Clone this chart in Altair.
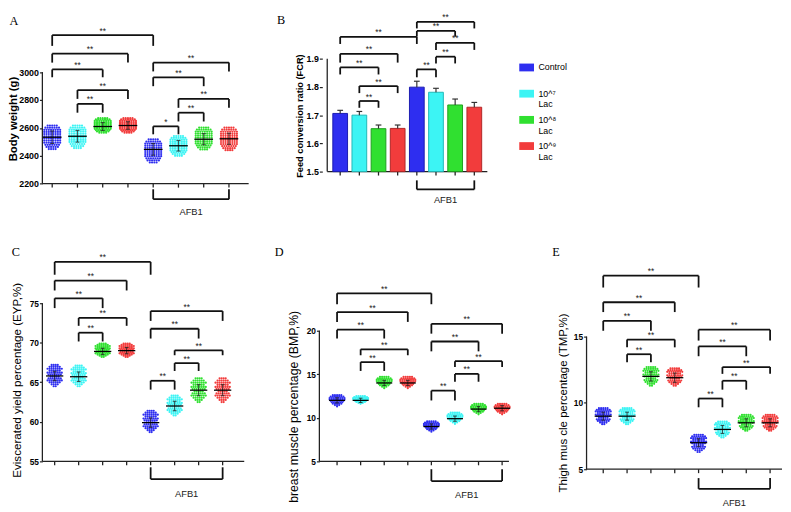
import altair as alt
import pandas as pd

FONT = "Liberation Sans, Arial, sans-serif"
SERIF = "Liberation Serif, Times New Roman, serif"

GROUPS = ["Control", "10^7 Lac", "10^8 Lac", "10^9 Lac"]
LEGEND_TEXT = ["Control", "10^\u2077\nLac", "10^\u2078\nLac", "10^\u2079\nLac"]
COLORS = ["#2e2ef0", "#3cf4f4", "#30e030", "#f23c3c"]
EDGES = ["#1c1cb0", "#22b8b8", "#1f9f1f", "#b02626"]
POSITIONS = [1, 2, 3, 4, 5, 6, 7, 8]
POS_GROUP = GROUPS + GROUPS

# ---------------- Panel A: body weight (g) ----------------
A_LO = [2448, 2455, 2565, 2565, 2352, 2400, 2446, 2440]
A_HI = [2617, 2617, 2670, 2670, 2517, 2542, 2602, 2602]
A_MEAN = [2533, 2540, 2610, 2617, 2446, 2472, 2519, 2522]
A_SD = [45, 42, 28, 27, 42, 38, 40, 40]
A_BRACKETS = [(1, 5, 3265, 3188, "**"), (1, 4, 3132, 3068, "**"), (1, 3, 3019, 2963, "**"),
              (2, 4, 2871, 2808, "**"), (2, 3, 2772, 2709, "**"), (5, 8, 3068, 3005, "**"),
              (5, 7, 2963, 2899, "**"), (6, 8, 2808, 2744, "**"), (6, 7, 2709, 2646, "**"),
              (5, 6, 2611, 2554, "*")]
A_AFB1 = (2160, 2089, 1998)
A_ROWS = [5, 7, 8, 8, 8, 8, 8, 8, 8, 7, 6, 4]

# ---------------- Panel B: feed conversion ratio ----------------
B_MEAN = [1.706, 1.700, 1.652, 1.653, 1.799, 1.781, 1.736, 1.728]
B_SD = [0.011, 0.013, 0.013, 0.012, 0.021, 0.014, 0.021, 0.017]
B_BRACKETS = [(1, 5, 1.977, 1.952, "**"), (1, 4, 1.917, 1.886, "**"), (1, 3, 1.869, 1.844, "**"),
              (2, 4, 1.803, 1.778, "**"), (2, 3, 1.750, 1.726, "**"), (5, 8, 2.030, 2.007, "**"),
              (5, 7, 1.998, 1.978, "**"), (6, 8, 1.956, 1.931, "**"), (6, 7, 1.907, 1.883, "**"),
              (5, 6, 1.862, 1.834, "**")]
B_AFB1 = (1.469, 1.437, 1.399)

# ---------------- Panel C: eviscerated yield (%) ----------------
C_LO = [64.5, 64.5, 68.2, 68.2, 58.7, 60.8, 62.5, 62.5]
C_HI = [67.2, 67.1, 69.9, 69.9, 61.4, 63.3, 65.5, 65.5]
C_MEAN = [65.8, 65.7, 68.9, 69.0, 59.9, 62.0, 64.0, 64.0]
C_SD = [0.6, 0.6, 0.4, 0.4, 0.6, 0.6, 0.7, 0.7]
C_BRACKETS = [(1, 5, 80.22, 78.6, "**"), (1, 4, 77.86, 76.61, "**"), (1, 3, 75.62, 74.38, "**"),
              (2, 4, 73.14, 72.14, "**"), (2, 3, 71.27, 70.16, "**"), (5, 8, 74.0, 72.76, "**"),
              (5, 7, 71.77, 70.53, "**"), (6, 8, 69.04, 68.42, "**"), (6, 7, 67.42, 66.43, "**"),
              (5, 6, 65.19, 64.07, "**")]
C_AFB1 = (54.25, 52.76, 50.9)
C_ROWS = [4, 6, 8, 6, 8, 7, 5, 7, 8, 6, 4, 2]

# ---------------- Panel D: breast muscle (%) ----------------
D_LO = [11.3, 11.6, 13.4, 13.4, 8.4, 9.3, 10.4, 10.4]
D_HI = [12.6, 12.5, 14.7, 14.7, 9.6, 10.6, 11.6, 11.6]
D_MEAN = [12.0, 12.0, 14.0, 14.0, 9.0, 9.9, 11.0, 11.1]
D_SD = [0.3, 0.25, 0.3, 0.3, 0.3, 0.3, 0.3, 0.3]
D_BRACKETS = [(1, 5, 24.29, 23.04, "**"), (1, 4, 22.14, 21.01, "**"), (1, 3, 20.11, 19.10, "**"),
              (2, 4, 17.86, 17.18, "**"), (2, 3, 16.39, 15.38, "**"), (5, 8, 20.79, 19.66, "**"),
              (5, 7, 18.76, 17.63, "**"), (6, 8, 16.50, 15.83, "**"), (6, 7, 15.04, 14.14, "**"),
              (5, 6, 13.12, 11.99, "**")]
D_AFB1 = (4.1, 2.74, 1.17)
D_ROWS = [5, 7, 8, 8, 7, 6, 5, 3, 1]

# ---------------- Panel E: thigh muscle (%) ----------------
E_LO = [8.4, 8.4, 11.3, 11.3, 6.3, 7.4, 7.9, 7.9]
E_HI = [9.6, 9.6, 12.7, 12.6, 7.6, 8.6, 9.1, 9.1]
E_MEAN = [9.0, 9.0, 12.0, 11.9, 7.0, 8.0, 8.5, 8.5]
E_SD = [0.3, 0.3, 0.35, 0.35, 0.3, 0.3, 0.3, 0.3]
E_BRACKETS = [(1, 5, 19.59, 18.70, "**"), (1, 4, 17.59, 16.85, "**"), (1, 3, 16.19, 15.44, "**"),
              (2, 4, 14.78, 14.19, "**"), (2, 3, 13.67, 13.07, "**"), (5, 8, 15.52, 14.70, "**"),
              (5, 7, 14.26, 13.52, "**"), (6, 8, 12.70, 12.19, "**"), (6, 7, 11.67, 11.0, "**"),
              (5, 6, 10.33, 9.67, "**")]
E_AFB1 = (4.33, 3.52, 2.48)
E_ROWS = [5, 7, 8, 6, 8, 7, 5, 7, 6, 4, 2]

color_scale = alt.Scale(domain=GROUPS, range=COLORS)
edge_scale = alt.Scale(domain=GROUPS, range=EDGES)


def bracket_frames(brackets):
    segs, labels = [], []
    for x1, x2, yl, yd, lab in brackets:
        segs += [dict(x=x1, x2=x2, y=yl, y2=yl), dict(x=x1, x2=x1, y=yd, y2=yl),
                 dict(x=x2, x2=x2, y=yd, y2=yl)]
        labels.append(dict(x=(x1 + x2) / 2, y=yl, t=lab))
    return pd.DataFrame(segs), pd.DataFrame(labels)


def swarm_frame(lo, hi, rows, dx):
    out = []
    n = len(rows)
    for g in range(8):
        for r, cnt in enumerate(rows):
            yv = hi[g] - r * (hi[g] - lo[g]) / (n - 1)
            for i in range(cnt):
                out.append(dict(x=POSITIONS[g] + (i - (cnt - 1) / 2) * dx, y=yv, group=POS_GROUP[g]))
    return pd.DataFrame(out)


def build_panel(cfg):
    xs = alt.Scale(domain=cfg["xdom"], nice=False, zero=False)
    ys = alt.Scale(domain=cfg["ydom"], nice=False, zero=False)
    yaxis = alt.Axis(values=cfg["ticks"], format=cfg["fmt"], title=cfg["title"], grid=False, domain=False,
                     tickSize=3, tickWidth=1.2, tickColor="#222",
                     labelFont=FONT, labelFontSize=cfg["label_size"], labelFontWeight="bold",
                     labelColor="black", labelPadding=1,
                     minExtent=cfg["extent"], maxExtent=cfg["extent"],
                     titleFont=FONT, titleFontSize=cfg["title_size"], titleFontWeight=cfg["title_weight"],
                     titleColor="black", titlePadding=cfg["title_pad"], titleY=cfg["title_y"])

    def X(f="x"):
        return alt.X(f + ":Q", scale=xs, axis=None)

    def Y(f="y"):
        return alt.Y(f + ":Q", scale=ys, axis=yaxis)

    x0, x1 = cfg["xdom"]
    xend = cfg.get("xend", x1)
    t0, t1 = cfg["ticks"][0], cfg["ticks"][-1]
    tick_len = 4 * (cfg["ydom"][1] - cfg["ydom"][0]) / cfg["height"]
    axis_rows = [dict(x=x0, x2=x0, y=t0, y2=t1), dict(x=x0, x2=xend, y=t0, y2=t0)]
    axis_rows += [dict(x=p, x2=p, y=t0 - tick_len, y2=t0) for p in POSITIONS]
    axes = alt.Chart(pd.DataFrame(axis_rows)).mark_rule(color="#222", strokeWidth=1.3).encode(
        x=X(), x2="x2:Q", y=Y(), y2="y2:Q")

    segs, labs = bracket_frames(cfg["brackets"])
    br = alt.Chart(segs).mark_rule(color="#111", strokeWidth=1.8).encode(x=X(), x2="x2:Q", y=Y(), y2="y2:Q")
    brt = alt.Chart(labs).mark_text(font=FONT, fontSize=8.5, color="#222", baseline="alphabetic",
                                    dy=-1.5).encode(x=X(), y=Y(), text="t:N")

    top, line, ty = cfg["afb1"]
    afb = alt.Chart(pd.DataFrame([dict(x=5, x2=8, y=line, y2=line), dict(x=5, x2=5, y=top, y2=line),
                                  dict(x=8, x2=8, y=top, y2=line)])).mark_rule(
        color="#111", strokeWidth=1.8).encode(x=X(), x2="x2:Q", y=Y(), y2="y2:Q")
    afbt = alt.Chart(pd.DataFrame([dict(x=6.5, y=ty, t="AFB1")])).mark_text(
        font=FONT, fontSize=9.5, color="#222", baseline="middle").encode(x=X(), y=Y(), text="t:N")

    layers = [axes, br, brt, afb, afbt]

    if cfg["kind"] == "swarm":
        pts = swarm_frame(cfg["lo"], cfg["hi"], cfg["rows"], cfg["dx"])
        layers.append(alt.Chart(pts).mark_circle(size=5, opacity=1).encode(
            x=X(), y=Y(), color=alt.Color("group:N", scale=color_scale, legend=None)))
        hw = cfg["half"]
        mean_rows, sd_rows = [], []
        for p, m, s in zip(POSITIONS, cfg["mean"], cfg["sd"]):
            mean_rows.append(dict(x=p - hw, x2=p + hw, y=m, y2=m))
            sd_rows.append(dict(x=p, x2=p, y=m - s, y2=m + s))
            sd_rows.append(dict(x=p - 0.08, x2=p + 0.08, y=m + s, y2=m + s))
            sd_rows.append(dict(x=p - 0.08, x2=p + 0.08, y=m - s, y2=m - s))
        layers.append(alt.Chart(pd.DataFrame(sd_rows)).mark_rule(color="#222", strokeWidth=0.8).encode(
            x=X(), x2="x2:Q", y=Y(), y2="y2:Q"))
        layers.append(alt.Chart(pd.DataFrame(mean_rows)).mark_rule(color="black", strokeWidth=1.3).encode(
            x=X(), x2="x2:Q", y=Y(), y2="y2:Q"))
    else:
        bars = pd.DataFrame(dict(x=POSITIONS, y=cfg["mean"], group=POS_GROUP))
        layers.append(alt.Chart(bars).mark_bar(size=15, strokeWidth=1).encode(
            x=X(), y=Y(), y2=alt.datum(cfg["ticks"][0]),
            color=alt.Color("group:N", scale=color_scale, legend=None),
            stroke=alt.Stroke("group:N", scale=edge_scale, legend=None)))
        err = []
        for p, m, s in zip(POSITIONS, cfg["mean"], cfg["sd"]):
            err.append(dict(x=p, x2=p, y=m, y2=m + s))
            err.append(dict(x=p - 0.15, x2=p + 0.15, y=m + s, y2=m + s))
        layers.append(alt.Chart(pd.DataFrame(err)).mark_rule(color="#333", strokeWidth=1.2).encode(
            x=X(), x2="x2:Q", y=Y(), y2="y2:Q"))

    letter, lx, ly = cfg["letter"]
    layers.append(alt.Chart(pd.DataFrame({"t": [letter]})).mark_text(
        font=SERIF, fontSize=12.5, color="black", align="center", baseline="middle").encode(
        text="t:N", x=alt.value(lx), y=alt.value(ly)))

    return alt.layer(*layers).properties(width=cfg["width"], height=cfg["height"])


panel_a = build_panel(dict(kind="swarm", xdom=[0.611, 8.78], ydom=[1920.5, 3427.5], width=210, height=214,
                           ticks=[2200, 2400, 2600, 2800, 3000], fmt="d", title="Body weight (g)",
                           label_size=9, extent=24, title_size=11.5, title_weight="bold", title_pad=0,
                           title_y=108, brackets=A_BRACKETS, afb1=A_AFB1, lo=A_LO, hi=A_HI, mean=A_MEAN,
                           sd=A_SD, rows=A_ROWS, dx=0.09, half=0.37, letter=("A", -29, 9)))

panel_b = build_panel(dict(kind="bar", xdom=[0.324, 8.68], ydom=[1.3192, 2.0635], width=173, height=214,
                           ticks=[1.5, 1.6, 1.7, 1.8, 1.9], fmt=".1f", title="Feed conversion ratio (FCR)",
                           label_size=9, extent=17, title_size=9.4, title_weight="bold", title_pad=1.3,
                           title_y=105, brackets=B_BRACKETS, afb1=B_AFB1, mean=B_MEAN, sd=B_SD,
                           letter=("B", -42, 8)))

panel_c = build_panel(dict(kind="swarm", xdom=[0.488, 8.9], ydom=[49.41, 82.45], width=205.5, height=266,
                           ticks=[55, 60, 65, 70, 75], fmt="d", title="Eviscerated yield percentage (EYP,%)",
                           label_size=8.5, extent=14, title_size=11.8, title_weight="normal", title_pad=6,
                           title_y=138, brackets=C_BRACKETS, afb1=C_AFB1, lo=C_LO, hi=C_HI, mean=C_MEAN,
                           sd=C_SD, rows=C_ROWS, dx=0.085, half=0.36, letter=("C", -27, 8)))

panel_d = build_panel(dict(kind="swarm", xdom=[0.25, 8.415], xend=8.29, ydom=[-0.075, 29.92], width=196,
                           height=266, ticks=[5, 10, 15, 20], fmt="d", title="breast muscle percentage (BMP,%)",
                           label_size=8.5, extent=14, title_size=12.5, title_weight="normal", title_pad=5,
                           title_y=165, brackets=D_BRACKETS, afb1=D_AFB1, lo=D_LO, hi=D_HI, mean=D_MEAN,
                           sd=D_SD, rows=D_ROWS, dx=0.09, half=0.34, letter=("D", -41, 8)))

panel_e = build_panel(dict(kind="swarm", xdom=[0.30, 8.5], ydom=[2.26, 21.96], width=199, height=266,
                           ticks=[5, 10, 15], fmt="d", title="Thigh mus cle percentage (TMP,%)",
                           label_size=8.5, extent=14, title_size=11.7, title_weight="normal", title_pad=4.6,
                           title_y=161, brackets=E_BRACKETS, afb1=E_AFB1, lo=E_LO, hi=E_HI, mean=E_MEAN,
                           sd=E_SD, rows=E_ROWS, dx=0.09, half=0.36, letter=("E", -31, 8)))

legend_df = pd.DataFrame({"group": GROUPS, "label": LEGEND_TEXT})
ly = alt.Y("group:N", sort=GROUPS, scale=alt.Scale(type="point", range=[56, 136], padding=0), axis=None)
leg_sq = alt.Chart(legend_df).mark_point(shape="M-1,-0.53L1,-0.53L1,0.53L-1,0.53Z", filled=True, size=225,
                                          opacity=1, strokeWidth=0).encode(
    x=alt.value(-40), y=ly, color=alt.Color("group:N", scale=color_scale, legend=None))
leg_tx = alt.Chart(legend_df).mark_text(align="left", baseline="middle", lineBreak="\n", font=FONT,
                                         fontSize=9, lineHeight=11, color="black").encode(
    x=alt.value(-28), y=ly, text="label:N")
legend = alt.layer(leg_sq, leg_tx).properties(width=40, height=214)

top = alt.hconcat(panel_a, panel_b, legend, spacing=75, bounds="flush")
bottom = alt.hconcat(panel_c, panel_d, panel_e, spacing=76, bounds="flush")

chart = alt.vconcat(top, bottom, spacing=22).properties(padding=0).configure(
    background="white").configure_view(stroke=None)

chart.save("out.html", embed_options={"renderer": "svg", "actions": False})
